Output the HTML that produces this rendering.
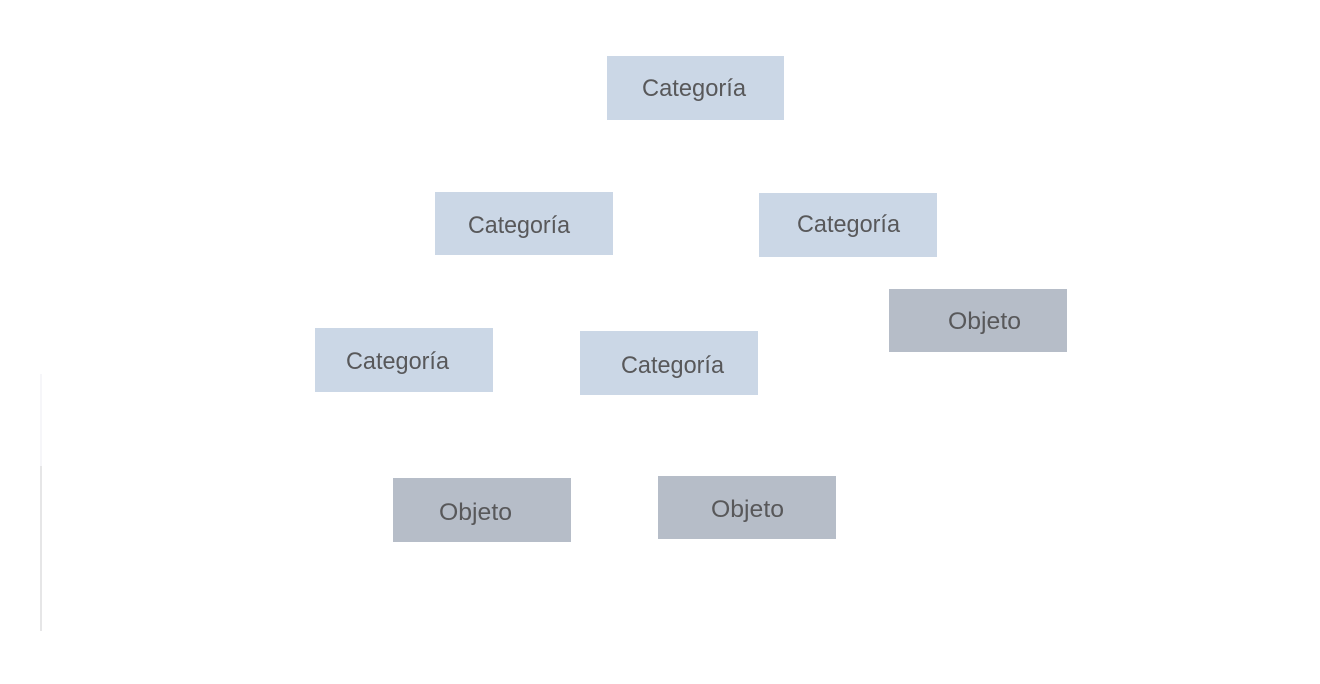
<!DOCTYPE html>
<html>
<head>
<meta charset="utf-8">
<style>
  html, body { margin: 0; padding: 0; background: #ffffff; }
  body { width: 1320px; height: 684px; overflow: hidden; position: relative; }
  svg { position: absolute; left: 0; top: 0; }
  text { font-family: "Liberation Sans", "DejaVu Sans", sans-serif; font-size: 24px; fill: #58585a; }
</style>
</head>
<body>
<svg width="1320" height="684" viewBox="0 0 1320 684" xmlns="http://www.w3.org/2000/svg">
  <rect x="0" y="0" width="1320" height="684" fill="#ffffff"/>

  <!-- left faint line -->
  <rect x="40.5" y="374" width="1" height="92" fill="#eeeef3"/>
  <rect x="40.5" y="466" width="1" height="165" fill="#cdcdcf"/>

  <!-- Category boxes -->
  <rect x="607" y="56" width="177" height="64" fill="#cbd7e6"/>
  <text x="694" y="96" text-anchor="middle" textLength="104" lengthAdjust="spacingAndGlyphs">Categoría</text>

  <rect x="435" y="192" width="178" height="63" fill="#cbd7e6"/>
  <text x="519" y="233" text-anchor="middle" textLength="102" lengthAdjust="spacingAndGlyphs">Categoría</text>

  <rect x="759" y="193" width="178" height="64" fill="#cbd7e6"/>
  <text x="848.5" y="232" text-anchor="middle" textLength="103" lengthAdjust="spacingAndGlyphs">Categoría</text>

  <rect x="315" y="328" width="178" height="64" fill="#cbd7e6"/>
  <text x="397.5" y="369" text-anchor="middle" textLength="103" lengthAdjust="spacingAndGlyphs">Categoría</text>

  <rect x="580" y="331" width="178" height="64" fill="#cbd7e6"/>
  <text x="672.5" y="373" text-anchor="middle" textLength="103" lengthAdjust="spacingAndGlyphs">Categoría</text>

  <!-- Object boxes -->
  <rect x="889" y="289" width="178" height="63" fill="#b6bdc8"/>
  <text x="984.5" y="329" text-anchor="middle" textLength="73" lengthAdjust="spacingAndGlyphs">Objeto</text>

  <rect x="393" y="478" width="178" height="64" fill="#b6bdc8"/>
  <text x="475.5" y="520" text-anchor="middle" textLength="73" lengthAdjust="spacingAndGlyphs">Objeto</text>

  <rect x="658" y="476" width="178" height="63" fill="#b6bdc8"/>
  <text x="747.5" y="517" text-anchor="middle" textLength="73" lengthAdjust="spacingAndGlyphs">Objeto</text>
</svg>
</body>
</html>
